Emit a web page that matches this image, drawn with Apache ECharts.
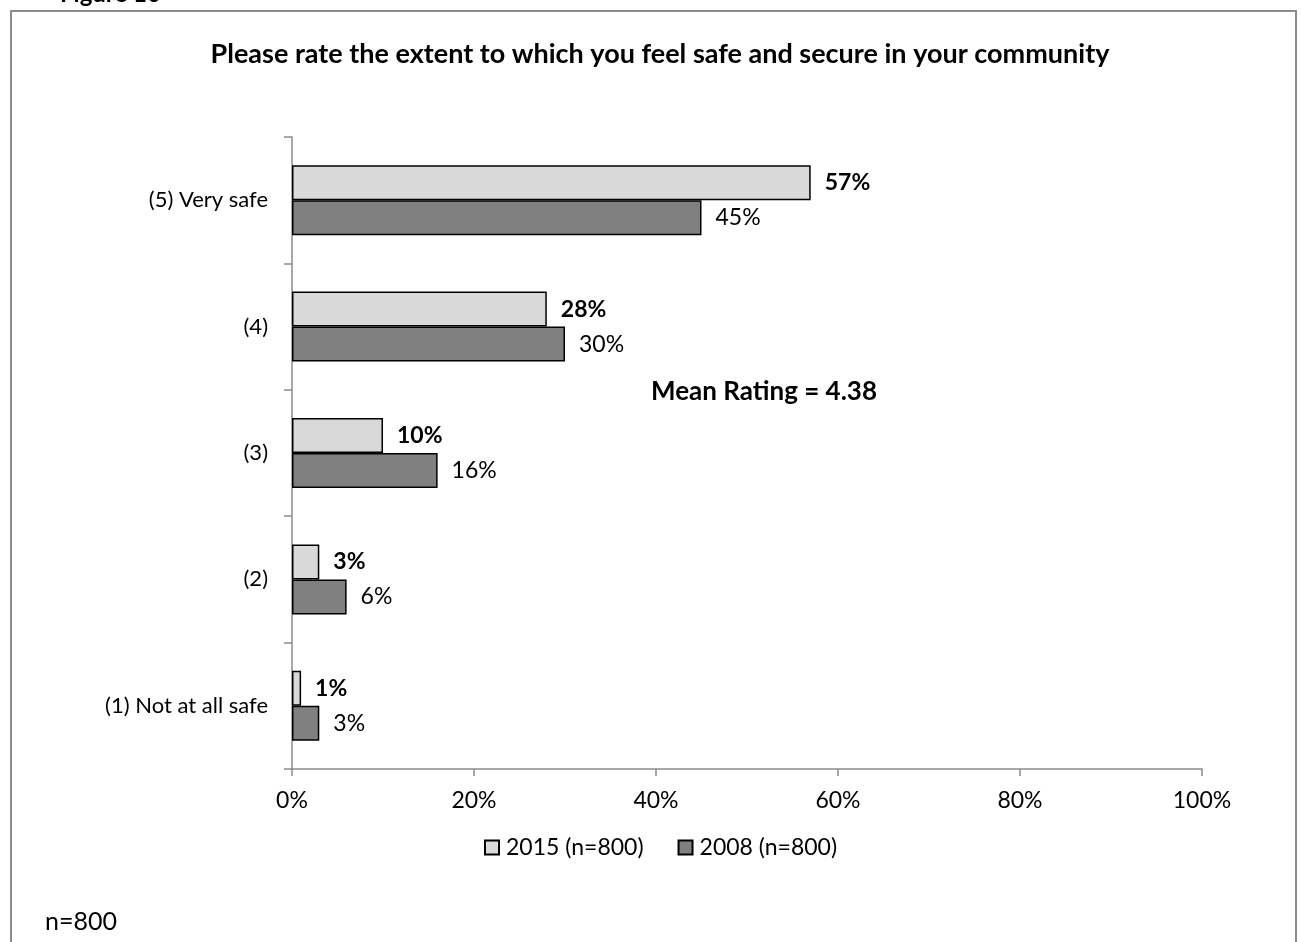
<!DOCTYPE html>
<html><head><meta charset="utf-8">
<script src="https://cdn.jsdelivr.net/npm/echarts@6/dist/echarts.min.js"></script>
<style>html,body{margin:0;padding:0;background:#fff}#c{width:1301px;height:942px}</style>
</head><body><div id="c"></div>
<script>
const categories = ['(5) Very safe', '(4)', '(3)', '(2)', '(1) Not at all safe'];
const values2015 = [57, 28, 10, 3, 1];
const values2008 = [45, 30, 16, 6, 3];
const seriesNames = ['2015 (n=800)', '2008 (n=800)'];
const xTicks = [0, 20, 40, 60, 80, 100];
const FONT = 'Lato, "Open Sans", sans-serif';

const chart = echarts.init(document.getElementById('c'));
chart.setOption({
  animation: false,
  backgroundColor: '#fff',
  textStyle: {fontFamily: FONT},
  title: {
    text: 'Please rate the extent to which you feel safe and secure in your community',
    left: 655, top: 36, textAlign: 'center',
    textStyle: {fontFamily: FONT, fontSize: 27, fontWeight: 'bold', color: '#000'}
  },
  legend: {
    data: seriesNames, left: 479, top: 831,
    icon: 'rect', itemWidth: 14, itemHeight: 14, itemGap: 34,
    textStyle: {fontFamily: FONT, fontSize: 23, color: '#000', padding: [0, 0, 0, 2]}
  },
  grid: {left: 292, right: 99, top: 137, bottom: 173, containLabel: false},
  xAxis: {
    type: 'value', min: xTicks[0], max: xTicks[xTicks.length - 1], interval: 20,
    axisLine: {show: true, lineStyle: {color: '#8c8c8c', width: 1.5}},
    axisTick: {show: true, length: 7, lineStyle: {color: '#8c8c8c', width: 1.5}},
    splitLine: {show: false},
    axisLabel: {formatter: '{value}%', fontSize: 23, color: '#000', margin: 20, fontFamily: FONT}
  },
  yAxis: {
    type: 'category', data: categories, inverse: true,
    axisLine: {show: true, lineStyle: {color: '#8c8c8c', width: 1.5}},
    axisTick: {show: true, length: 8, lineStyle: {color: '#8c8c8c', width: 1.5}},
    axisLabel: {fontSize: 22, color: '#000', margin: 24, fontFamily: FONT}
  },
  series: [
    {
      name: seriesNames[0], type: 'bar', data: values2015, barWidth: 35, barGap: '0%',
      itemStyle: {color: '#d9d9d9', borderColor: '#000', borderWidth: 1.5},
      label: {show: true, position: 'right', distance: 14, formatter: '{c}%',
        fontSize: 23, fontWeight: 'bold', color: '#000', fontFamily: FONT}
    },
    {
      name: seriesNames[1], type: 'bar', data: values2008, barWidth: 35, barGap: '0%',
      itemStyle: {color: '#808080', borderColor: '#000', borderWidth: 1.5},
      label: {show: true, position: 'right', distance: 14, formatter: '{c}%',
        fontSize: 23, color: '#000', fontFamily: FONT}
    }
  ],
  graphic: [
    {type: 'rect', shape: {x: 11, y: 11, width: 1285, height: 960},
      style: {fill: 'none', stroke: '#8c8c8c', lineWidth: 2}, silent: true},
    {type: 'text', left: 60, top: -18,
      style: {text: 'Figure 10', fontSize: 24, fontWeight: 'bold', fill: '#000', fontFamily: FONT}},
    {type: 'text', left: 651, top: 379,
      style: {text: 'Mean Rating = 4.38', fontSize: 26, fontWeight: 'bold', fill: '#000', fontFamily: FONT}},
    {type: 'text', left: 45, top: 909,
      style: {text: 'n=800', fontSize: 25, fill: '#000', fontFamily: FONT}}
  ]
});
</script></body></html>
